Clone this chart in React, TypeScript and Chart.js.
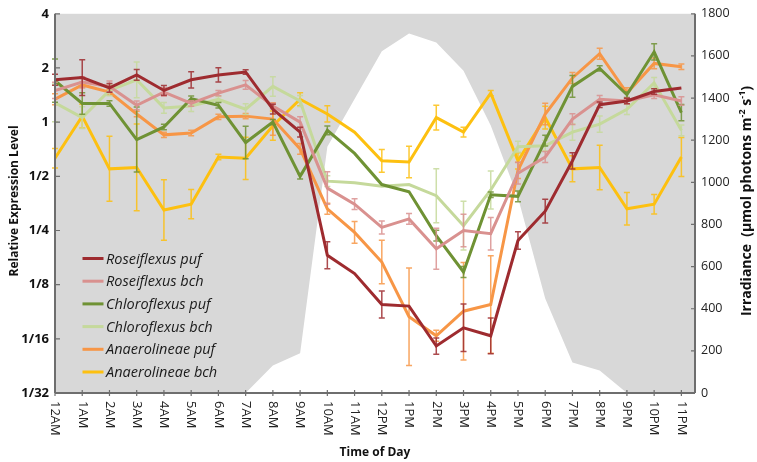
import React, { useEffect, useRef } from "react";
import { Chart, registerables } from "chart.js";
Chart.register(...registerables);

const hours = [0, 1, 2, 3, 4, 5, 6, 7, 8, 9, 10, 11, 12, 13, 14, 15, 16, 17, 18, 19, 20, 21, 22, 23];
const hourLabels = ["12AM", "1AM", "2AM", "3AM", "4AM", "5AM", "6AM", "7AM", "8AM", "9AM", "10AM", "11AM",
  "12PM", "1PM", "2PM", "3PM", "4PM", "5PM", "6PM", "7PM", "8PM", "9PM", "10PM", "11PM"];
const leftTickValues = [1 / 32, 1 / 16, 1 / 8, 1 / 4, 1 / 2, 1, 2, 4];
const leftTickLabels = ["1/32", "1/16", "1/8", "1/4", "1/2", "1", "2", "4"];

const irradiance = [0, 0, 0, 0, 0, 0, 0, 0, 131, 189, 1169, 1395, 1622, 1706, 1664, 1530, 1270, 928, 449, 145, 107, 0, 0, 0];

const roseiflexusPuf = [1.72, 1.77, 1.55, 1.83, 1.5, 1.72, 1.83, 1.9, 1.18, 0.88, 0.182, 0.144, 0.097, 0.095, 0.057, 0.072, 0.065, 0.22, 0.32, 0.61, 1.25, 1.31, 1.48, 1.55];
const roseiflexusPufErr = [0.1, 0.33, 0.08, 0.1, 0.09, 0.15, 0.13, 0.04, 0.09, 0.09, 0.25, 0, 0.25, 0, 0.15, 0.44, 0.33, 0.16, 0.22, 0.15, 0.05, 0.05, 0.05, 0];

const roseiflexusBch = [1.5, 1.67, 1.58, 1.24, 1.47, 1.27, 1.45, 1.61, 1.23, 1.0, 0.43, 0.35, 0.26, 0.29, 0.198, 0.25, 0.24, 0.52, 0.64, 1.04, 1.34, 1.31, 1.42, 1.31];
const roseiflexusBchErr = [0.15, 0.1, 0.1, 0.08, 0.08, 0.05, 0.05, 0.08, 0.05, 0.1, 0.3, 0.1, 0.12, 0.1, 0.38, 0.3, 0.3, 0.2, 0.1, 0.1, 0.07, 0.05, 0.07, 0.08];

const chloroflexusPuf = [1.7, 1.27, 1.27, 0.8, 0.94, 1.35, 1.24, 0.77, 1.0, 0.5, 0.9, 0.67, 0.45, 0.41, 0.234, 0.147, 0.395, 0.387, 0.79, 1.58, 1.99, 1.42, 2.46, 1.13];
const chloroflexusPufErr = [0.4, 0.2, 0.05, 0.6, 0.05, 0.05, 0.05, 0.3, 0.05, 0.05, 0.08, 0, 0, 0, 0.1, 0.1, 0.05, 0.1, 0.1, 0.2, 0.05, 0.05, 0.15, 0.15];

const chloroflexusBch = [1.28, 1.06, 1.5, 1.72, 1.2, 1.23, 1.34, 1.18, 1.58, 1.31, 0.47, 0.46, 0.44, 0.45, 0.39, 0.266, 0.42, 0.73, 0.74, 0.88, 0.975, 1.18, 1.65, 0.9];
const chloroflexusBchErr = [0.35, 0.2, 0.1, 0.33, 0.1, 0.1, 0.05, 0.1, 0.18, 0.1, 0.1, 0, 0, 0, 0.5, 0.45, 0.35, 0.1, 0.1, 0.15, 0.15, 0.1, 0.1, 0.1];

const anaerolineaePuf = [1.34, 1.61, 1.47, 1.11, 0.85, 0.87, 1.07, 1.08, 1.04, 0.71, 0.33, 0.244, 0.167, 0.083, 0.065, 0.089, 0.097, 0.54, 1.11, 1.76, 2.4, 1.45, 2.12, 2.03];
const anaerolineaePufErr = [0.1, 0.05, 0.05, 0.05, 0.05, 0.05, 0.05, 0.05, 0.3, 0.1, 0.1, 0.2, 0.4, 0.9, 0.1, 0.9, 0.9, 0.15, 0.2, 0.1, 0.1, 0.1, 0.1, 0.05];

const anaerolineaeBch = [0.63, 1.08, 0.55, 0.56, 0.325, 0.35, 0.64, 0.63, 0.955, 1.34, 1.11, 0.88, 0.61, 0.6, 1.06, 0.88, 1.45, 0.61, 1.06, 0.55, 0.56, 0.33, 0.35, 0.64];
const anaerolineaeBchErr = [0.18, 0.22, 0.6, 0.8, 0.56, 0.27, 0.05, 0.39, 0.27, 0.12, 0.15, 0, 0.21, 0.29, 0.23, 0.09, 0.05, 0.15, 0.21, 0.24, 0.41, 0.3, 0.18, 0.36];

const seriesNames = ["Roseiflexus puf", "Roseiflexus bch", "Chloroflexus puf", "Chloroflexus bch", "Anaerolineae puf", "Anaerolineae bch"];
const seriesValues = [roseiflexusPuf, roseiflexusBch, chloroflexusPuf, chloroflexusBch, anaerolineaePuf, anaerolineaeBch];
const seriesErrors = [roseiflexusPufErr, roseiflexusBchErr, chloroflexusPufErr, chloroflexusBchErr, anaerolineaePufErr, anaerolineaeBchErr];
const seriesColors = ["#9e2b2f", "#d9918f", "#6f9234", "#c5d99b", "#f79646", "#fdc010"];

const FONT = "'Open Sans', sans-serif";

const customPlugin = {
  id: "custom",
  beforeDraw(chart: any) {
    const { ctx, chartArea } = chart;
    const { left, top, right, bottom } = chartArea;
    ctx.save();
    ctx.fillStyle = "#d8d8d8";
    ctx.fillRect(left, top, right - left, bottom - top);
    ctx.restore();
  },
  afterDatasetDraw(chart: any, args: any) {
    const ds = chart.data.datasets[args.index];
    if (!ds.errors) return;
    const { ctx, chartArea } = chart;
    const xs = chart.scales.x;
    const ys = chart.scales.y;
    ctx.save();
    ctx.strokeStyle = ds.borderColor;
    ctx.globalAlpha = 0.85;
    ctx.lineWidth = 1.5;
    ds.data.forEach((pt: any, i: number) => {
      const e = ds.errors[i];
      if (!e) return;
      const px = xs.getPixelForValue(pt.x);
      const hi = Math.max(chartArea.top, ys.getPixelForValue(pt.y * Math.pow(2, e)));
      const lo = Math.min(chartArea.bottom, ys.getPixelForValue(pt.y / Math.pow(2, e)));
      ctx.beginPath();
      ctx.moveTo(px, hi);
      ctx.lineTo(px, lo);
      ctx.moveTo(px - 3, hi);
      ctx.lineTo(px + 3, hi);
      ctx.moveTo(px - 3, lo);
      ctx.lineTo(px + 3, lo);
      ctx.stroke();
    });
    ctx.restore();
  },
  afterDraw(chart: any) {
    const { ctx, chartArea } = chart;
    const { left, top, right, bottom } = chartArea;
    const xs = chart.scales.x;
    const ys = chart.scales.y;
    const y1 = chart.scales.y1;
    ctx.save();
    ctx.strokeStyle = "#6e6e6e";
    ctx.lineWidth = 2;
    ctx.beginPath();
    ctx.moveTo(left, top);
    ctx.lineTo(left, bottom);
    ctx.moveTo(right, top);
    ctx.lineTo(right, bottom);
    ctx.moveTo(left, bottom);
    ctx.lineTo(right, bottom);
    ctx.stroke();
    ctx.lineWidth = 1.2;
    ctx.beginPath();
    hours.forEach((h) => {
      const px = xs.getPixelForValue(h);
      ctx.moveTo(px, bottom - 3);
      ctx.lineTo(px, bottom + 3);
    });
    leftTickValues.forEach((v) => {
      const py = ys.getPixelForValue(v);
      ctx.moveTo(left, py);
      ctx.lineTo(left + 5, py);
    });
    y1.ticks.forEach((t: any) => {
      const py = y1.getPixelForValue(t.value);
      ctx.moveTo(right - 4, py);
      ctx.lineTo(right, py);
    });
    ctx.stroke();
    ctx.fillStyle = "#222";
    ctx.font = `13px ${FONT}`;
    ctx.textAlign = "left";
    ctx.textBaseline = "middle";
    hours.forEach((h, i) => {
      const px = xs.getPixelForValue(h);
      ctx.save();
      ctx.translate(px, bottom + 8);
      ctx.rotate(Math.PI / 2);
      ctx.fillText(hourLabels[i], 0, 0);
      ctx.restore();
    });
    ctx.font = `bold 12px ${FONT}`;
    ctx.textAlign = "center";
    ctx.fillStyle = "#111";
    ctx.fillText("Time of Day", (left + right) / 2, 453);
    ctx.save();
    ctx.translate(15, 201);
    ctx.rotate(-Math.PI / 2);
    ctx.font = `bold 12px ${FONT}`;
    ctx.fillText("Relative Expression Level", 0, 0);
    ctx.restore();
    ctx.save();
    ctx.translate(747, 201);
    ctx.rotate(-Math.PI / 2);
    const segs = [
      { t: "Irradiance  (µmol photons m", sup: false },
      { t: "-2", sup: true },
      { t: " s", sup: false },
      { t: "-1", sup: true },
      { t: ")", sup: false },
    ];
    const normal = `bold 14px ${FONT}`;
    const small = `bold 9px ${FONT}`;
    let total = 0;
    segs.forEach((s) => {
      ctx.font = s.sup ? small : normal;
      total += ctx.measureText(s.t).width;
    });
    let cx = -total / 2;
    ctx.textAlign = "left";
    segs.forEach((s) => {
      ctx.font = s.sup ? small : normal;
      ctx.fillText(s.t, cx, s.sup ? -5 : 0);
      cx += ctx.measureText(s.t).width;
    });
    ctx.restore();
    ctx.font = `italic 14.5px ${FONT}`;
    ctx.textAlign = "left";
    ctx.textBaseline = "middle";
    seriesNames.forEach((name, i) => {
      const ly = 258.5 + i * 22.7;
      ctx.strokeStyle = seriesColors[i];
      ctx.lineWidth = 3;
      ctx.beginPath();
      ctx.moveTo(82.5, ly);
      ctx.lineTo(103.5, ly);
      ctx.stroke();
      ctx.fillStyle = "#1a1a1a";
      ctx.fillText(name, 106, ly + 1);
    });
    ctx.restore();
  },
};

export default function App() {
  const ref = useRef<HTMLCanvasElement | null>(null);
  useEffect(() => {
    if (!ref.current) return;
    const datasets: any[] = seriesNames.map((name, i) => ({
      label: name,
      data: hours.map((h, j) => ({ x: h, y: seriesValues[i][j] })),
      errors: seriesErrors[i],
      borderColor: seriesColors[i],
      backgroundColor: seriesColors[i],
      borderWidth: 3,
      pointRadius: 0,
      tension: 0,
      yAxisID: "y",
      fill: false,
    }));
    datasets.push({
      label: "Irradiance",
      data: hours.map((h, j) => ({ x: h, y: irradiance[j] })),
      borderColor: "#ffffff",
      backgroundColor: "#ffffff",
      borderWidth: 0,
      pointRadius: 0,
      tension: 0,
      yAxisID: "y1",
      fill: "origin",
    });
    const chart = new Chart(ref.current, {
      type: "line",
      data: { datasets },
      plugins: [customPlugin],
      options: {
        animation: false,
        responsive: true,
        maintainAspectRatio: false,
        layout: { padding: { top: 8, left: 0, right: 0, bottom: 0 } },
        plugins: { legend: { display: false }, tooltip: { enabled: false } },
        scales: {
          x: {
            type: "linear",
            min: 0,
            max: 23.5,
            grid: { display: false, drawTicks: false },
            border: { display: false },
            ticks: { display: false, stepSize: 1 },
            afterFit: (s: any) => { s.height = 69; },
          },
          y: {
            type: "logarithmic",
            position: "left",
            min: 1 / 32,
            max: 4,
            grid: { display: false, drawTicks: false },
            border: { display: false },
            afterBuildTicks: (s: any) => { s.ticks = leftTickValues.map((v) => ({ value: v })); },
            ticks: {
              padding: 6,
              color: "#111",
              font: { family: FONT, size: 13, weight: "bold" },
              callback: (_v: any, i: number) => leftTickLabels[i],
            },
            afterFit: (s: any) => { s.width = 55; },
          },
          y1: {
            type: "linear",
            position: "right",
            min: 0,
            max: 1800,
            grid: { display: false, drawTicks: false },
            border: { display: false },
            ticks: {
              stepSize: 200,
              padding: 6,
              color: "#222",
              font: { family: FONT, size: 12.5 },
              callback: (v: any) => String(v),
            },
            afterFit: (s: any) => { s.width = 62; },
          },
        },
      } as any,
    });
    return () => chart.destroy();
  }, []);
  return (
    <div style={{ position: "absolute", left: 0, top: 0, width: 757, height: 462 }}>
      <canvas ref={ref} />
    </div>
  );
}
